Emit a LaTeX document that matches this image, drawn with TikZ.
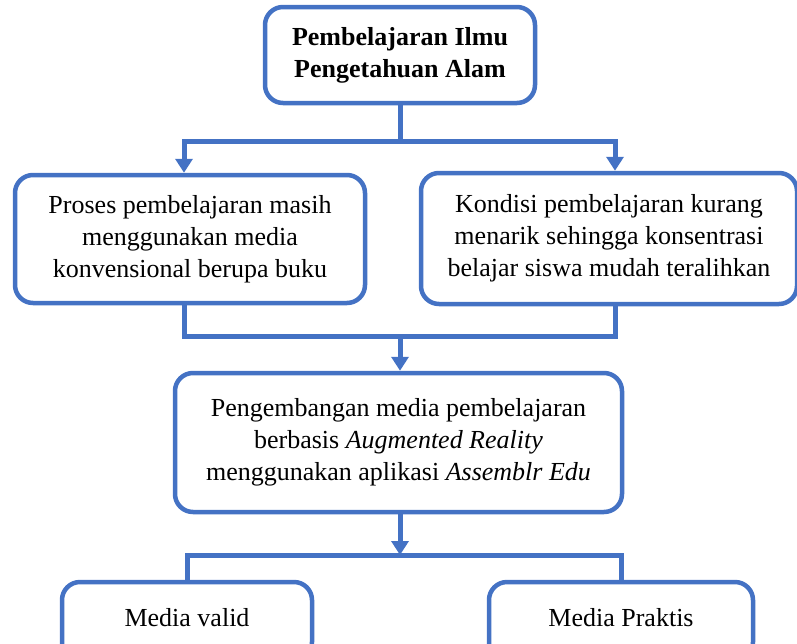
\documentclass[tikz,border=0pt]{standalone}
\usepackage{fontspec}
\setmainfont{Liberation Serif}
\usetikzlibrary{arrows.meta,calc}
\definecolor{biru}{HTML}{4472C4}
\tikzset{
  kotak/.style={draw=biru,line width=4.5pt,rounded corners=18pt,fill=white,
    align=center,inner sep=0pt,font=\fontsize{26pt}{32pt}\selectfont},
  kotakjudul/.style={kotak,font=\fontsize{26pt}{32pt}\selectfont\bfseries},
  garis/.style={draw=biru,line width=5pt},
  panah/.style={garis,-{Triangle[length=14pt,width=17pt]}}
}

\begin{document}
\begin{tikzpicture}[x=1pt,y=-1pt]
\clip (0,0) rectangle (797,643);
\useasboundingbox (0,0) rectangle (797,643);

\node[kotakjudul,minimum width=270pt,minimum height=96pt] (judul) at (400,55) {Pembelajaran Ilmu\\Pengetahuan Alam};

\node[kotak,minimum width=350pt,minimum height=128pt] (masalahA) at (190,239) {Proses pembelajaran masih\\menggunakan media\\konvensional berupa buku};
\node[kotak,minimum width=376pt,minimum height=131pt] (masalahB) at (609,238.5) {Kondisi pembelajaran kurang\\menarik sehingga konsentrasi\\belajar siswa mudah teralihkan};

\node[kotak,minimum width=447pt,minimum height=139pt] (pengembangan) at (398.5,442.5) {Pengembangan media pembelajaran\\berbasis \textit{Augmented Reality}\\menggunakan aplikasi \textit{Assemblr Edu}};

\node[kotak,minimum width=250pt,minimum height=78pt] (valid) at (187,621) {\raisebox{8pt}{Media valid}};
\node[kotak,minimum width=264pt,minimum height=78pt] (praktis) at (621,621) {\raisebox{8pt}{Media Praktis}};

\coordinate (cab1) at (400,141);
\coordinate (gabung) at (400,336);
\coordinate (cab2) at (400,555);

\draw[garis] (judul.south) -- (cab1);
\draw[panah] (cab1) -| ([xshift=-6pt]masalahA.north);
\draw[panah] (cab1) -| ([xshift=6pt]masalahB.north);
\draw[garis] ([xshift=-6pt]masalahA.south) |- (gabung) -| ([xshift=6pt]masalahB.south);
\draw[panah] (gabung) -- (gabung |- pengembangan.north);
\draw[panah] (pengembangan.south -| cab2) -- (cab2);
\draw[garis] (valid.north) |- (cab2) -| (praktis.north);
\end{tikzpicture}
\end{document}
